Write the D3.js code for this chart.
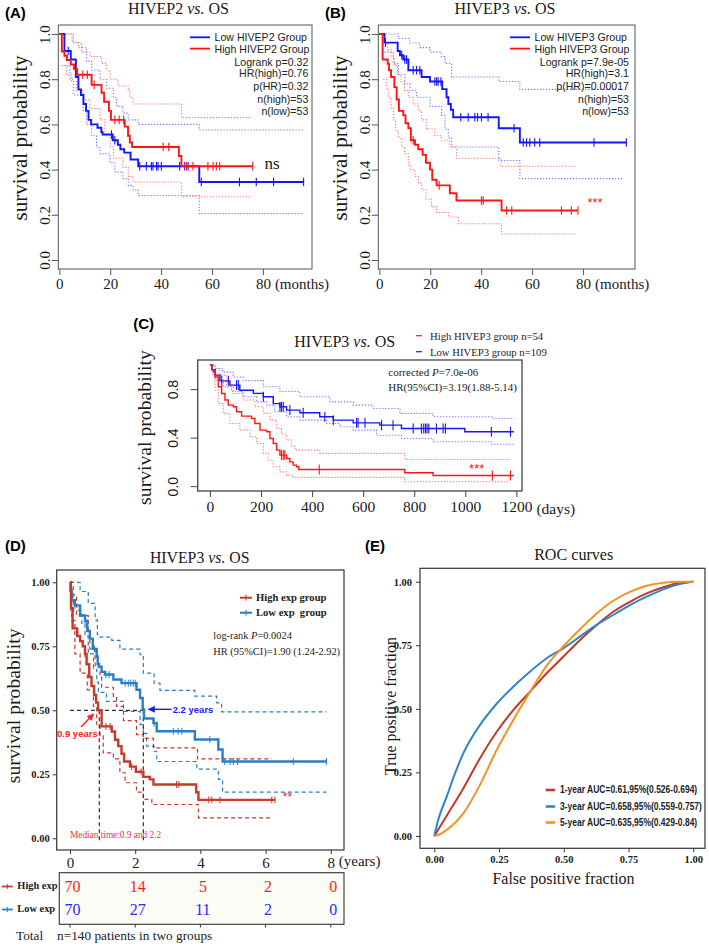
<!DOCTYPE html>
<html><head><meta charset="utf-8">
<script src="https://cdn.jsdelivr.net/npm/d3@7"></script>
<style>body{margin:0;background:#fff}svg{display:block}</style>
</head><body>
<svg id="fig" width="709" height="946"></svg>
<script>
// ================= DATA =================
// Panel A: HIVEP2 vs OS (months) - [time, survival]
const A_high = [[0,1],[1,0.923],[2,0.904],[3,0.885],[4.5,0.865],[5.8,0.845],[7,0.82],[12.7,0.775],[16.6,0.74],[17.6,0.70],[19.5,0.66],[20.3,0.62],[25.7,0.59],[27,0.55],[27.7,0.52],[28.6,0.50],[47,0.46],[48,0.415],[76,0.415]];
const A_high_cens = [9.2,11,13.7,21.8,23.5,25.3,40.8,43,50,52.5,58.4,60.4,61.7,63,76];
const A_low = [[0,1],[2,0.925],[4.5,0.887],[6.5,0.81],[7.5,0.755],[8.5,0.73],[9.5,0.69],[10.5,0.66],[11.5,0.62],[12.5,0.60],[15,0.585],[16.5,0.566],[17,0.555],[21,0.53],[23,0.51],[24,0.49],[25.5,0.475],[28,0.445],[31,0.415],[55,0.345],[96,0.345]];
const A_low_cens = [3.5,20.5,21.8,31.6,34.2,36.2,36.8,38.2,38.8,40.1,47.3,49.3,50.6,55.8,70.8,77.4,84.2,96];
const A_high_up = [[0,1],[5,0.965],[7.5,0.94],[10.7,0.92],[12,0.9],[16.6,0.87],[18.6,0.84],[19.9,0.80],[23.1,0.77],[27.1,0.75],[27.7,0.72],[29,0.69],[48,0.63],[75,0.63]];
const A_high_lo = [[1,0.86],[2.9,0.82],[4.8,0.79],[6.8,0.75],[9.4,0.71],[12,0.67],[16,0.62],[17.9,0.55],[20,0.50],[21.3,0.45],[25,0.41],[27.1,0.37],[29,0.345],[48,0.28],[75,0.28]];
const A_low_up = [[2,1.0],[5.5,0.96],[8.8,0.92],[10.7,0.88],[12.7,0.84],[16,0.80],[18.6,0.76],[21.3,0.72],[22.5,0.68],[25,0.65],[27.1,0.62],[31,0.60],[55,0.575],[96,0.575]];
const A_low_lo = [[2,0.86],[4.2,0.80],[5.5,0.73],[9.4,0.66],[10.7,0.60],[12.7,0.55],[14.6,0.50],[16,0.47],[19.9,0.43],[21.8,0.39],[25,0.36],[27.1,0.33],[29,0.31],[31,0.285],[55,0.205],[96,0.205]];
const A_stats = ["Logrank p=0.32","HR(high)=0.76","p(HR)=0.32","n(high)=53","n(low)=53"];
const A_legend = ["Low HIVEP2 Group","High HIVEP2 Group"];

// Panel B: HIVEP3 vs OS (months)
const B_low = [[0,1],[2,0.962],[7.2,0.925],[8.1,0.906],[9.4,0.887],[11.4,0.84],[16.6,0.81],[19.9,0.79],[24.7,0.756],[26.4,0.72],[27.1,0.69],[28.1,0.665],[29,0.632],[46.9,0.583],[55.2,0.52],[97,0.52]];
const B_low_cens = [2.4,8.8,10,10.7,13.3,14.6,15.9,21.8,22.5,23.1,24.2,32,34.9,37.5,38.6,40.1,42.7,52.9,56.5,57.8,59.1,61,63,84.3,97];
const B_high = [[0,1],[1.3,0.887],[3.3,0.868],[3.8,0.84],[4.6,0.81],[5.9,0.765],[6.8,0.71],[7.7,0.66],[9.4,0.64],[10.3,0.605],[11.4,0.583],[12.4,0.53],[14,0.51],[15.3,0.49],[17,0.465],[18.3,0.43],[19.9,0.40],[20.8,0.355],[22.5,0.33],[27.7,0.295],[30.3,0.263],[48,0.219],[78,0.219]];
const B_high_cens = [13.3,23.5,40.1,40.8,50,52,71.5,75.4,78];
const B_low_up = [[0,1],[7.5,0.98],[12,0.96],[15.9,0.94],[19.9,0.92],[24.4,0.90],[25.8,0.87],[28.4,0.81],[46.9,0.79],[55.2,0.755],[96,0.755]];
const B_low_lo = [[2,0.92],[5.5,0.87],[7.5,0.82],[10,0.78],[12,0.75],[14.6,0.72],[19.9,0.68],[24.4,0.64],[25.8,0.58],[27.1,0.54],[28.4,0.50],[46.9,0.44],[55.2,0.36],[96,0.36]];
const B_high_up = [[0,1],[2.2,0.96],[3.3,0.93],[4.6,0.90],[5.9,0.86],[7.2,0.82],[8.5,0.79],[9.8,0.75],[11.4,0.72],[13.3,0.69],[15.3,0.66],[16.6,0.62],[18.6,0.58],[21.8,0.55],[24.4,0.53],[27.7,0.50],[30.3,0.45],[47.7,0.415],[77,0.415]];
const B_high_lo = [[1.5,0.80],[2.9,0.76],[3.5,0.72],[4.6,0.67],[5.5,0.62],[6.4,0.57],[7.5,0.54],[8.8,0.50],[10,0.47],[11.4,0.42],[12.4,0.40],[14,0.37],[15.3,0.34],[16.6,0.31],[18.3,0.27],[20.5,0.235],[22.5,0.21],[27.1,0.19],[31,0.16],[48,0.115],[77,0.115]];
const B_stats = ["Logrank p=7.9e-05","HR(high)=3.1","p(HR)=0.00017","n(high)=53","n(low)=53"];
const B_legend = ["Low HIVEP3 Group","High HIVEP3 Group"];

// Panel C: HIVEP3 vs OS (days)
const C_low = [[0,1],[8,0.96],[20,0.915],[39,0.868],[78,0.833],[117,0.79],[170,0.765],[209,0.737],[248,0.68],[274,0.654],[300,0.627],[352,0.605],[430,0.572],[483,0.544],[561,0.522],[665,0.503],[750,0.475],[998,0.448],[1190,0.448]];
const C_low_cens = [46,72,104,111,209,274,280,287,313,365,450,483,574,580,607,672,717,796,828,837,844,850,857,887,913,922,1102,1177];
const C_high = [[0,1],[8,0.96],[13,0.94],[19.6,0.90],[32.6,0.82],[45.7,0.764],[58.7,0.71],[71.7,0.668],[91.3,0.654],[104,0.613],[124,0.577],[163,0.558],[176,0.517],[196,0.462],[222,0.448],[235,0.393],[248,0.352],[261,0.297],[274,0.256],[300,0.228],[313,0.2],[326,0.173],[339,0.16],[348,0.137],[763,0.11],[874,0.088],[1190,0.088]];
const C_high_cens = [280,287,293,428,1106,1177];
const C_low_up = [[0,1],[20,0.97],[50,0.94],[91,0.90],[130,0.87],[209,0.82],[274,0.78],[352,0.737],[470,0.695],[561,0.668],[639,0.64],[744,0.60],[874,0.572],[1109,0.558],[1190,0.558]];
const C_low_lo = [[6.5,0.96],[20,0.875],[52,0.82],[85,0.78],[130,0.737],[183,0.695],[222,0.668],[254,0.613],[300,0.572],[352,0.544],[457,0.517],[509,0.49],[561,0.462],[652,0.42],[750,0.393],[874,0.366],[1102,0.346],[1190,0.346]];
const C_high_up = [[0,1],[20,0.97],[39,0.915],[65,0.82],[91,0.764],[130,0.71],[176,0.654],[209,0.60],[235,0.544],[261,0.475],[280,0.43],[300,0.38],[320,0.33],[333,0.297],[430,0.27],[763,0.22],[1175,0.22]];
const C_high_lo = [[8,0.92],[19.6,0.79],[32.6,0.68],[52,0.60],[78,0.517],[117,0.462],[157,0.407],[183,0.352],[209,0.27],[228,0.214],[248,0.16],[274,0.118],[300,0.09],[326,0.072],[763,0.036],[1175,0.036]];
const C_legend = ["High HIVEP3 group n=54","Low HIVEP3 group n=109"];

// Panel D: HIVEP3 vs OS (years)
const D_low = [[0,1],[0.02,0.97],[0.05,0.93],[0.15,0.91],[0.31,0.87],[0.46,0.85],[0.53,0.81],[0.61,0.78],[0.70,0.74],[0.82,0.71],[0.85,0.68],[0.89,0.67],[0.97,0.65],[1.07,0.64],[1.33,0.62],[1.58,0.606],[2.04,0.58],[2.15,0.548],[2.23,0.503],[2.27,0.468],[2.56,0.45],[2.66,0.418],[3.83,0.386],[4.55,0.347],[4.68,0.30],[7.87,0.30]];
const D_low_cens = [0.15,0.46,0.75,1.1,1.2,1.69,1.79,1.86,1.94,2.0,2.58,3.17,3.32,3.43,4.29,4.75,4.91,5.01,5.14,6.85,7.87];
const D_high = [[0,1],[0.02,0.965],[0.03,0.90],[0.08,0.82],[0.22,0.79],[0.31,0.77],[0.39,0.75],[0.46,0.72],[0.51,0.68],[0.59,0.63],[0.66,0.595],[0.74,0.56],[0.80,0.53],[0.86,0.50],[0.97,0.437],[1.28,0.417],[1.38,0.385],[1.48,0.36],[1.58,0.33],[1.66,0.30],[1.84,0.28],[2.02,0.26],[2.25,0.24],[2.45,0.23],[2.56,0.21],[3.87,0.18],[3.94,0.15],[6.29,0.15]];
const D_high_cens = [0.03,0.46,1.1,1.23,1.89,2.18,3.27,3.34,4.26,4.35,4.6,6.19,6.29];
const D_low_up = [[0,1],[0.31,0.964],[0.56,0.918],[0.77,0.853],[0.84,0.795],[0.92,0.786],[1.28,0.773],[1.53,0.739],[2.15,0.717],[2.25,0.645],[2.58,0.606],[2.76,0.578],[3.83,0.555],[4.5,0.529],[4.65,0.494],[7.87,0.494]];
const D_low_lo = [[0.02,0.945],[0.1,0.89],[0.36,0.84],[0.46,0.79],[0.56,0.72],[0.72,0.66],[0.82,0.61],[0.87,0.57],[1.12,0.535],[1.64,0.496],[2.15,0.444],[2.25,0.41],[2.35,0.36],[2.58,0.34],[2.66,0.30],[3.89,0.27],[4.55,0.23],[4.68,0.18],[7.87,0.18]];
const D_high_up = [[0,1],[0.1,0.95],[0.2,0.87],[0.56,0.81],[0.61,0.74],[0.77,0.67],[0.92,0.63],[0.97,0.59],[1.33,0.55],[1.43,0.515],[1.64,0.46],[2.04,0.405],[2.25,0.39],[2.56,0.353],[3.91,0.31],[6.19,0.31]];
const D_high_lo = [[0,0.9],[0.05,0.85],[0.15,0.72],[0.31,0.645],[0.53,0.58],[0.72,0.515],[0.82,0.44],[0.92,0.40],[1.02,0.334],[1.33,0.31],[1.53,0.256],[1.69,0.217],[2.04,0.18],[2.25,0.152],[2.51,0.132],[3.94,0.08],[6.19,0.08]];
const D_medians = [0.9, 2.25];
const D_riskTimes = [0,2,4,6,8];
const D_riskHigh = [70,14,5,2,0];
const D_riskLow = [70,27,11,2,0];

// Panel E: ROC curves [FPR, TPR]
const E_roc1 = [[0,0],[0.048,0.08],[0.112,0.187],[0.176,0.305],[0.241,0.41],[0.305,0.495],[0.369,0.567],[0.434,0.64],[0.498,0.705],[0.562,0.77],[0.627,0.83],[0.691,0.882],[0.755,0.921],[0.82,0.954],[0.884,0.978],[0.948,0.996],[1,1]];
const E_roc3 = [[0,0],[0.015,0.063],[0.048,0.155],[0.08,0.246],[0.112,0.325],[0.176,0.436],[0.241,0.52],[0.305,0.587],[0.369,0.646],[0.434,0.699],[0.498,0.738],[0.562,0.784],[0.627,0.83],[0.691,0.869],[0.755,0.908],[0.82,0.941],[0.884,0.97],[0.948,0.991],[1,1]];
const E_roc5 = [[0,0],[0.015,0.004],[0.048,0.024],[0.112,0.089],[0.176,0.2],[0.241,0.338],[0.305,0.456],[0.369,0.565],[0.434,0.67],[0.498,0.745],[0.562,0.812],[0.627,0.875],[0.691,0.925],[0.755,0.96],[0.82,0.984],[0.884,0.996],[0.948,1.0],[1,1]];
const E_labels = ["1-year AUC=0.61,95%(0.526-0.694)","3-year AUC=0.658,95%(0.559-0.757)","5-year AUC=0.635,95%(0.429-0.84)"];

// ================= DRAWING =================
const SERIF = "'Liberation Serif','Times New Roman',serif";
const SANS = "'Liberation Sans',Arial,sans-serif";
const svg = d3.select('#fig');
svg.append('rect').attr('width',709).attr('height',946).attr('fill','#fff');

const defs = svg.append('defs');
function arrowMarker(id, color){
  defs.append('marker').attr('id',id).attr('viewBox','0 0 10 10').attr('refX',9).attr('refY',5)
    .attr('markerWidth',5).attr('markerHeight',5).attr('orient','auto')
    .append('path').attr('d','M0,0 L10,5 L0,10 z').attr('fill',color);
}
arrowMarker('arRed','#ff2020'); arrowMarker('arBlue','#1a1aff');

function txt(g, x, y, s, o={}){
  const t = g.append('text').attr('x',x).attr('y',y).text(s)
    .attr('font-family',o.family||SERIF).attr('font-size',o.size||12)
    .attr('fill',o.fill||'#1a1a1a').attr('text-anchor',o.anchor||'start');
  if(o.weight) t.attr('font-weight',o.weight);
  if(o.style) t.attr('font-style',o.style);
  if(o.rotate) t.attr('transform',`rotate(${o.rotate},${x},${y})`);
  return t;
}
function title(g, cx, y, gene, size){
  const t = g.append('text').attr('x',cx).attr('y',y).attr('text-anchor','middle')
    .attr('font-family',SERIF).attr('font-size',size).attr('fill','#1a1a1a');
  t.append('tspan').text(gene+' ');
  t.append('tspan').attr('font-style','italic').text('vs.');
  t.append('tspan').text(' OS');
}
const stepGen = (x,y)=>d3.line().x(d=>x(d[0])).y(d=>y(d[1])).curve(d3.curveStepAfter);
function stepPath(g,data,x,y){ return g.append('path').attr('d',stepGen(x,y)(data)).attr('fill','none'); }
function survAt(curve,t){ let s=curve[0][1]; for(const [tt,ss] of curve){ if(tt<=t) s=ss; else break; } return s; }
function censTicks(g,times,curve,x,y,h,color,w){
  g.append('g').selectAll('line').data(times).join('line')
    .attr('x1',d=>x(d)).attr('x2',d=>x(d))
    .attr('y1',d=>y(survAt(curve,d))-h).attr('y2',d=>y(survAt(curve,d))+h)
    .attr('stroke',color).attr('stroke-width',w);
}
function box(g,x,y,stroke,sw){
  const [x0,x1]=x.range(), [y0,y1]=y.range();
  g.append('rect').attr('x',x0).attr('y',y1).attr('width',x1-x0).attr('height',y0-y1)
    .attr('fill','none').attr('stroke',stroke).attr('stroke-width',sw);
}

// ---------- R-style panels A & B ----------
function rPanel(o){
  const g = svg.append('g');
  const x = d3.scaleLinear().domain(o.xd).range(o.xr);
  const y = d3.scaleLinear().domain([-0.04,1.04]).range([269,25]);
  [[o.lowUp,'#7a7aff'],[o.lowLo,'#7a7aff'],[o.highUp,'#ff7a7a'],[o.highLo,'#ff7a7a']].forEach(([d,c])=>
    stepPath(g,d,x,y).attr('stroke',c).attr('stroke-width',1.1).attr('stroke-dasharray','1.3,1.7'));
  stepPath(g,o.low,x,y).attr('stroke','#1515ff').attr('stroke-width',1.9);
  censTicks(g,o.lowC,o.low,x,y,4.3,'#1515ff',1.1);
  stepPath(g,o.high,x,y).attr('stroke','#ff1515').attr('stroke-width',1.9);
  censTicks(g,o.highC,o.high,x,y,4.3,'#ff1515',1.1);
  box(g,x,y,'#555',1);
  const ax = g.append('g').attr('transform','translate(0,269)')
    .call(d3.axisBottom(x).tickValues([0,20,40,60,80]).tickSize(6).tickPadding(3).tickFormat(d3.format('d')));
  ax.select('.domain').remove();
  ax.attr('font-family',SERIF).attr('font-size',15);
  ax.selectAll('line').attr('stroke','#555');
  ax.selectAll('text').attr('fill','#1a1a1a');
  txt(g,x(80)+12,289,'(months)',{size:15});
  const ay = g.append('g').attr('transform',`translate(${o.xr[0]},0)`)
    .call(d3.axisLeft(y).tickValues([0,0.2,0.4,0.6,0.8,1.0]).tickSize(6.5).tickFormat(d3.format('.1f')));
  ay.select('.domain').remove();
  ay.attr('font-family',SERIF).attr('font-size',15);
  ay.selectAll('line').attr('stroke','#555');
  ay.selectAll('text').attr('transform','rotate(-90)').attr('x',0).attr('y',-8.5).attr('dy',0)
    .attr('text-anchor','middle').attr('fill','#1a1a1a');
  txt(g,o.xr[0]-31,138,'survival probability',{size:21,anchor:'middle',rotate:-90});
  title(g,o.tx,13.5,o.gene,16);
  txt(g,o.lx,18,o.label,{family:SANS,size:15,weight:'bold',fill:'#000'});
  const L = o.legX;
  g.append('line').attr('x1',L).attr('x2',L+20).attr('y1',37.3).attr('y2',37.3).attr('stroke','#1515ff').attr('stroke-width',1.8);
  g.append('line').attr('x1',L).attr('x2',L+20).attr('y1',48.6).attr('y2',48.6).attr('stroke','#ff1515').attr('stroke-width',1.8);
  txt(g,L+24.5,41.2,o.legend[0],{family:SANS,size:10.6,fill:'#222'});
  txt(g,L+24.5,52.5,o.legend[1],{family:SANS,size:10.6,fill:'#222'});
  const sy=[61.7,73.5,86,98.7,111.3];
  o.stats.forEach((s,i)=>txt(g,o.statX,sy[i]+3.8,s,{family:SANS,size:10.6,anchor:'end',fill:'#222'}));
  return {g,x,y};
}
const pA = rPanel({xd:[-0.4,99.3],xr:[58.3,312],low:A_low,lowC:A_low_cens,high:A_high,highC:A_high_cens,
  lowUp:A_low_up,lowLo:A_low_lo,highUp:A_high_up,highLo:A_high_lo,tx:178.5,gene:'HIVEP2',lx:5,label:'(A)',
  legX:190,legend:A_legend,stats:A_stats,statX:308.3});
txt(pA.g,272,168.5,'ns',{size:17,anchor:'middle'});
const pB = rPanel({xd:[-0.4,100.4],xr:[378.3,635],low:B_low,lowC:B_low_cens,high:B_high,highC:B_high_cens,
  lowUp:B_low_up,lowLo:B_low_lo,highUp:B_high_up,highLo:B_high_lo,tx:505,gene:'HIVEP3',lx:325,label:'(B)',
  legX:510,legend:B_legend,stats:B_stats,statX:629});
txt(pB.g,595,207,'***',{family:SANS,size:13,anchor:'middle',fill:'#ff1515'});

// ---------- Panel C ----------
(function(){
  const g = svg.append('g');
  const x = d3.scaleLinear().domain([-48,1222]).range([197.7,522]);
  const y = d3.scaleLinear().domain([-0.04,1.04]).range([491,360]);
  [[C_low_up,'#7a7aff'],[C_low_lo,'#7a7aff'],[C_high_up,'#ff7a7a'],[C_high_lo,'#ff7a7a']].forEach(([d,c])=>
    stepPath(g,d,x,y).attr('stroke',c).attr('stroke-width',1.1).attr('stroke-dasharray','1.3,1.7'));
  stepPath(g,C_low,x,y).attr('stroke','#1515ff').attr('stroke-width',1.4);
  censTicks(g,C_low_cens,C_low,x,y,5,'#1515ff',1.1);
  stepPath(g,C_high,x,y).attr('stroke','#ff1515').attr('stroke-width',1.4);
  censTicks(g,C_high_cens,C_high,x,y,5,'#ff1515',1.1);
  box(g,x,y,'#444',1.3);
  const ax = g.append('g').attr('transform','translate(0,491)')
    .call(d3.axisBottom(x).tickValues([0,200,400,600,800,1000,1200]).tickSize(6).tickPadding(4).tickFormat(d3.format('d')));
  ax.select('.domain').remove();
  ax.attr('font-family',SERIF).attr('font-size',15.5);
  ax.selectAll('line').attr('stroke','#444');
  ax.selectAll('text').attr('fill','#1a1a1a');
  txt(g,x(1200)+20,513.5,'(days)',{size:15.5});
  const ay = g.append('g').attr('transform','translate(197.7,0)')
    .call(d3.axisLeft(y).tickValues([0,0.4,0.8]).tickSize(7).tickFormat(d3.format('.1f')));
  ay.select('.domain').remove();
  ay.attr('font-family',SANS).attr('font-size',14);
  ay.selectAll('line').attr('stroke','#444');
  ay.selectAll('text').attr('transform','rotate(-90)').attr('x',0).attr('y',-20).attr('dy',0)
    .attr('text-anchor','middle').attr('fill','#1a1a1a');
  txt(g,151,427.5,'survival probability',{size:19.7,anchor:'middle',rotate:-90});
  title(g,344.7,347.3,'HIVEP3',16);
  txt(g,133.3,329,'(C)',{family:SANS,size:15,weight:'bold',fill:'#000'});
  g.append('line').attr('x1',416).attr('x2',422).attr('y1',335.7).attr('y2',335.7).attr('stroke','#ff1515').attr('stroke-width',1.2);
  g.append('line').attr('x1',416).attr('x2',422).attr('y1',351.7).attr('y2',351.7).attr('stroke','#1515ff').attr('stroke-width',1.2);
  txt(g,430,339.5,C_legend[0],{size:10.7,fill:'#222'});
  txt(g,430,355.5,C_legend[1],{size:10.7,fill:'#222'});
  const t1 = g.append('text').attr('x',388.3).attr('y',375.5).attr('font-family',SERIF).attr('font-size',11).attr('fill','#222');
  t1.append('tspan').text('corrected ');
  t1.append('tspan').attr('font-style','italic').text('P');
  t1.append('tspan').text('=7.0e-06');
  txt(g,388.3,391,'HR(95%CI)=3.19(1.88-5.14)',{size:11,fill:'#222'});
  txt(g,476.7,472.5,'***',{family:SANS,size:13,anchor:'middle',fill:'#ff1515'});
})();

// ---------- Panel D ----------
(function(){
  const g = svg.append('g');
  const RED='#c63a2a', BLUE='#2a7fc2';
  const x = d3.scaleLinear().domain([-0.408,8.405]).range([56.7,344]);
  const y = d3.scaleLinear().domain([-0.0457,1.048]).range([850,570]);
  [[D_low_up,BLUE],[D_low_lo,BLUE],[D_high_up,RED],[D_high_lo,RED]].forEach(([d,c])=>
    stepPath(g,d,x,y).attr('stroke',c).attr('stroke-width',1.2).attr('stroke-dasharray','4,3'));
  g.append('line').attr('x1',x(0)).attr('x2',x(D_medians[1])).attr('y1',y(0.5)).attr('y2',y(0.5))
    .attr('stroke','#333').attr('stroke-width',1.2).attr('stroke-dasharray','4,3');
  D_medians.forEach(m=>g.append('line').attr('x1',x(m)).attr('x2',x(m)).attr('y1',y(0.5)).attr('y2',y(0)+3)
    .attr('stroke','#333').attr('stroke-width',1.2).attr('stroke-dasharray','4,3'));
  stepPath(g,D_low,x,y).attr('stroke',BLUE).attr('stroke-width',2.4);
  censTicks(g,D_low_cens,D_low,x,y,3.5,BLUE,1);
  stepPath(g,D_high,x,y).attr('stroke',RED).attr('stroke-width',2.4);
  censTicks(g,D_high_cens,D_high,x,y,3.5,RED,1);
  box(g,x,y,'#333',1.2);
  const ax = g.append('g').attr('transform','translate(0,850)')
    .call(d3.axisBottom(x).tickValues([0,2,4,6,8]).tickSize(4).tickPadding(3).tickFormat(d3.format('d')));
  ax.select('.domain').remove();
  ax.attr('font-family',SERIF).attr('font-size',15);
  ax.selectAll('line').attr('stroke','#333');
  ax.selectAll('text').attr('fill','#1a1a1a');
  txt(g,x(8)+8,866,'(years)',{size:15});
  const ay = g.append('g').attr('transform','translate(56.7,0)')
    .call(d3.axisLeft(y).tickValues([0,0.25,0.5,0.75,1]).tickSize(4).tickPadding(3).tickFormat(d3.format('.2f')));
  ay.select('.domain').remove();
  ay.attr('font-family',SERIF).attr('font-size',10.5).attr('font-weight','bold');
  ay.selectAll('line').attr('stroke','#333');
  ay.selectAll('text').attr('fill','#1a1a1a');
  txt(g,20,705.8,'survival probability',{size:19.7,anchor:'middle',rotate:-90});
  title(g,199.7,563.3,'HIVEP3',15.8);
  txt(g,5,551,'(D)',{family:SANS,size:15,weight:'bold',fill:'#000'});
  [[RED,597.7,'High exp group'],[BLUE,612.7,'Low exp  group']].forEach(([c,yy,s])=>{
    g.append('line').attr('x1',240).attr('x2',252).attr('y1',yy).attr('y2',yy).attr('stroke',c).attr('stroke-width',2);
    g.append('line').attr('x1',246).attr('x2',246).attr('y1',yy-3).attr('y2',yy+3).attr('stroke',c).attr('stroke-width',1);
    txt(g,256,yy+3.7,s,{size:10.6,weight:'bold',fill:'#222'}).attr('xml:space','preserve');
  });
  const t1 = g.append('text').attr('x',213.3).attr('y',639).attr('font-family',SERIF).attr('font-size',10.4).attr('fill','#222');
  t1.append('tspan').text('log-rank ');
  t1.append('tspan').attr('font-style','italic').text('P');
  t1.append('tspan').text('=0.0024');
  txt(g,213.3,654.5,'HR (95%CI)=1.90 (1.24-2.92)',{size:10.4,fill:'#222'});
  txt(g,57,736.5,'0.9 years',{family:SANS,size:9.5,weight:'bold',fill:'#ff2020'});
  g.append('line').attr('x1',81).attr('y1',727).attr('x2',93.5).attr('y2',714).attr('stroke','#ff2020').attr('stroke-width',1.4).attr('marker-end','url(#arRed)');
  txt(g,172.7,712.8,'2.2 years',{family:SANS,size:9.5,weight:'bold',fill:'#1a1aff'});
  g.append('line').attr('x1',171.5).attr('y1',709.3).attr('x2',148.5).attr('y2',709.3).attr('stroke','#1a1aff').attr('stroke-width',1.4).attr('marker-end','url(#arBlue)');
  txt(g,70,838.3,'Median time:0.9 and 2.2',{size:9.3,fill:'#ff3030'});
  txt(g,287.5,801,'**',{family:SANS,size:12,anchor:'middle',fill:'#ff2020'});

  // risk table
  g.append('rect').attr('x',59.3).attr('y',872.7).attr('width',284.7).attr('height',51.6)
    .attr('fill','#fcfcf6').attr('stroke','#333').attr('stroke-width',1.1);
  g.append('g').selectAll('line').data(D_riskTimes).join('line')
    .attr('x1',d=>x(d)).attr('x2',d=>x(d)).attr('y1',924.3).attr('y2',927.5).attr('stroke','#333');
  g.append('g').selectAll('text').data(D_riskHigh).join('text')
    .attr('x',(d,i)=>x(D_riskTimes[i])+2.5).attr('y',891.7).attr('text-anchor','middle')
    .attr('font-family',SERIF).attr('font-size',16).attr('fill','#ff1a1a').text(d=>d);
  g.append('g').selectAll('text').data(D_riskLow).join('text')
    .attr('x',(d,i)=>x(D_riskTimes[i])+2.5).attr('y',915).attr('text-anchor','middle')
    .attr('font-family',SERIF).attr('font-size',16).attr('fill','#2a2aff').text(d=>d);
  [[RED,886.5,889,'High exp'],[BLUE,909.5,912.3,'Low exp']].forEach(([c,yy,by,s])=>{
    g.append('line').attr('x1',2).attr('x2',12.7).attr('y1',yy).attr('y2',yy).attr('stroke',c).attr('stroke-width',1.8);
    g.append('line').attr('x1',7.3).attr('x2',7.3).attr('y1',yy-2.5).attr('y2',yy+2.5).attr('stroke',c).attr('stroke-width',1);
    txt(g,17.3,by,s,{size:10.4,weight:'bold',fill:'#222'});
  });
  txt(g,16,940,'Total',{size:13.3,fill:'#222'});
  txt(g,57,940,'n=140 patients in two groups',{size:13.3,fill:'#222'});
})();

// ---------- Panel E ----------
(function(){
  const g = svg.append('g');
  const x = d3.scaleLinear().domain([-0.0552,1.0452]).range([420,705]);
  const y = d3.scaleLinear().domain([-0.0484,1.0527]).range([848.3,568.3]);
  const cols = ['#c0392b','#2e86c8','#f39222'];
  const line = d3.line().x(d=>x(d[0])).y(d=>y(d[1])).curve(d3.curveMonotoneX);
  [E_roc1,E_roc3,E_roc5].forEach((d,i)=>g.append('path').attr('d',line(d)).attr('fill','none')
    .attr('stroke',cols[i]).attr('stroke-width',2));
  box(g,x,y,'#333',1.2);
  const ax = g.append('g').attr('transform','translate(0,848.3)')
    .call(d3.axisBottom(x).tickValues([0,0.25,0.5,0.75,1]).tickSize(4).tickPadding(3).tickFormat(d3.format('.2f')));
  ax.select('.domain').remove();
  ax.attr('font-family',SERIF).attr('font-size',10.5).attr('font-weight','bold');
  ax.selectAll('line').attr('stroke','#333');
  ax.selectAll('text').attr('fill','#1a1a1a');
  const ay = g.append('g').attr('transform','translate(420,0)')
    .call(d3.axisLeft(y).tickValues([0,0.25,0.5,0.75,1]).tickSize(4).tickPadding(4).tickFormat(d3.format('.2f')));
  ay.select('.domain').remove();
  ay.attr('font-family',SERIF).attr('font-size',10.5).attr('font-weight','bold');
  ay.selectAll('line').attr('stroke','#333');
  ay.selectAll('text').attr('fill','#1a1a1a');
  txt(g,563.5,884,'False positive fraction',{size:16,anchor:'middle'});
  txt(g,396,706,'True positive fraction',{size:16,anchor:'middle',rotate:-90});
  txt(g,573.7,560,'ROC curves',{size:16.1,anchor:'middle'});
  txt(g,365,551,'(E)',{family:SANS,size:15,weight:'bold',fill:'#000'});
  const ly=[789.5,806,822];
  E_labels.forEach((s,i)=>{
    g.append('line').attr('x1',545.7).attr('x2',555).attr('y1',ly[i]+0.5).attr('y2',ly[i]+0.5).attr('stroke',cols[i]).attr('stroke-width',2.6);
    g.append('text').attr('transform',`translate(560,${ly[i]+3.6}) scale(1,1.18)`)
      .attr('font-family',SANS).attr('font-size',8.5).attr('font-weight','bold').attr('fill','#222').text(s);
  });
})();
</script>
</body></html>
